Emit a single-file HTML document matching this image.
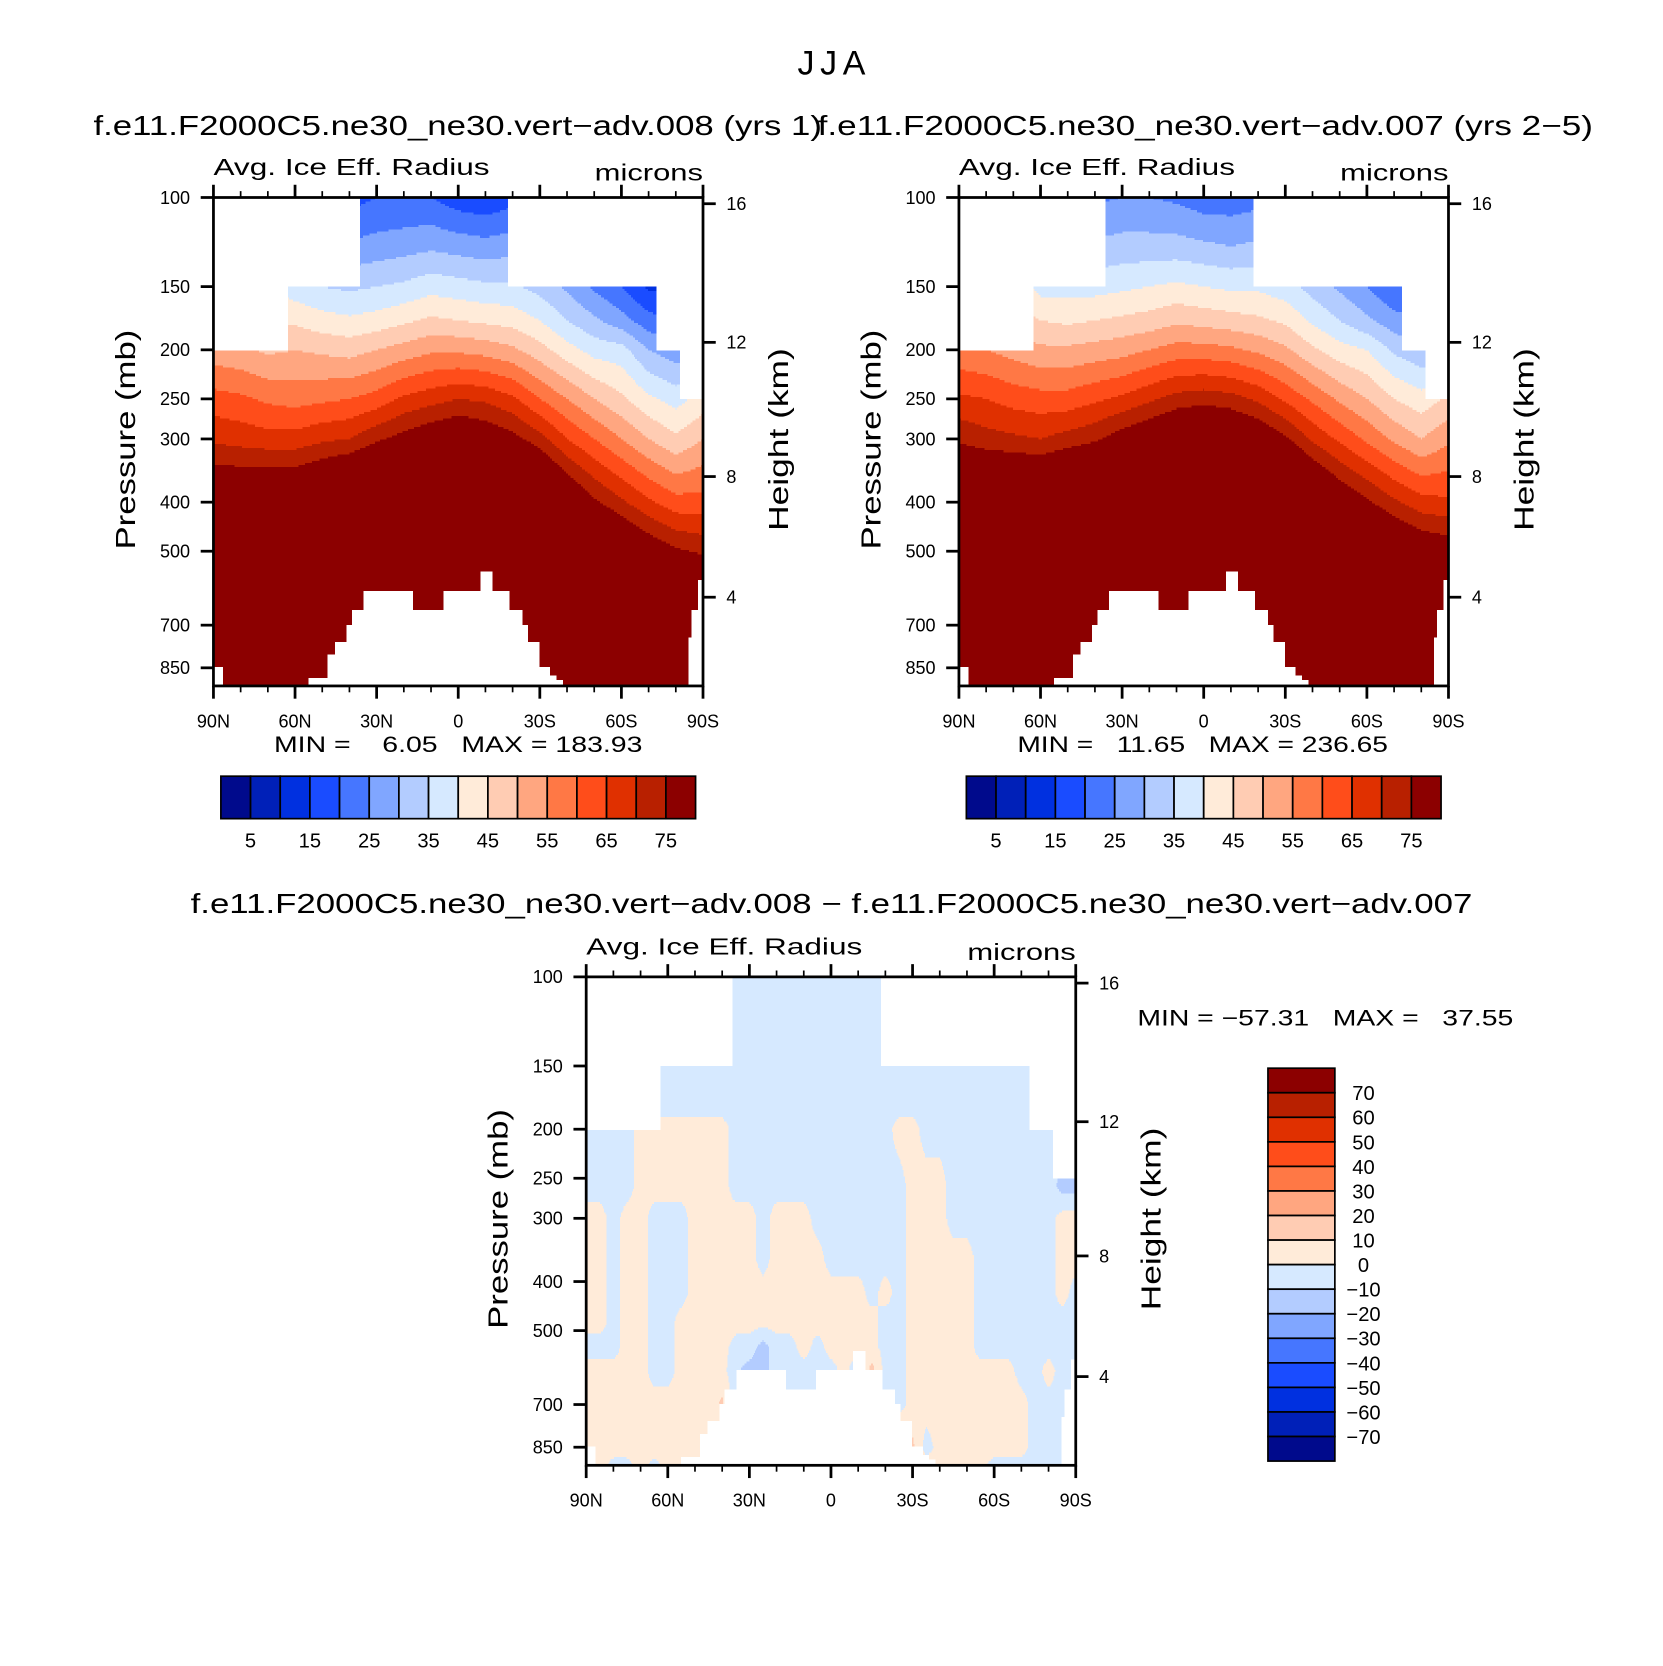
<!DOCTYPE html>
<html><head><meta charset="utf-8"><title>JJA Avg. Ice Eff. Radius</title>
<style>html,body{margin:0;padding:0;background:#fff}#wrap{width:1663px;height:1666px}svg{display:block}text{font-family:"Liberation Sans",sans-serif;fill:#000}</style>
</head><body>
<div id="wrap">
<svg id="fig" width="1663" height="1666" viewBox="0 0 1566 1569" preserveAspectRatio="none">
<text x="783" y="70" font-size="32" text-anchor="middle" textLength="64">JJA</text>
<text x="431" y="127" font-size="26" text-anchor="middle" textLength="686" lengthAdjust="spacingAndGlyphs">f.e11.F2000C5.ne30_ne30.vert−adv.008 (yrs 1)</text>
<text x="1135" y="127" font-size="26" text-anchor="middle" textLength="730" lengthAdjust="spacingAndGlyphs">f.e11.F2000C5.ne30_ne30.vert−adv.007 (yrs 2−5)</text>
<text x="783" y="860" font-size="26" text-anchor="middle" textLength="1207" lengthAdjust="spacingAndGlyphs">f.e11.F2000C5.ne30_ne30.vert−adv.008 − f.e11.F2000C5.ne30_ne30.vert−adv.007</text>
<text x="258" y="708" font-size="21" textLength="347" lengthAdjust="spacingAndGlyphs" xml:space="preserve">MIN =    6.05   MAX = 183.93</text>
<text x="958" y="708" font-size="21" textLength="349" lengthAdjust="spacingAndGlyphs" xml:space="preserve">MIN =   11.65   MAX = 236.65</text>
<text x="1071" y="966" font-size="21" textLength="354" lengthAdjust="spacingAndGlyphs" xml:space="preserve">MIN = −57.31   MAX =   37.55</text>
</svg>
</div>
<script>
// ---------- data ----------
const lats10 = [90,80,70,60,50,40,30,20,10,0,-10,-20,-30,-40,-50,-60,-70,-80,-90];
const pLev = [100,125,150,175,200,250,300,400,500,700,925];
const ctlVals = [
[45,48,50,51,52,62,69,84,100,130,150],
[40,44,47,49,51,61,68,84,100,130,150],
[30,35,40,45,49,59,67,85,100,130,150],
[20,26,37,44,50,58,67,85,100,130,150],
[18,26,35,42,49,59,69,88,105,130,150],
[18,26,34,41,48,60,70,92,110,140,150],
[20,27,35,42,50,62,74,95,115,140,150],
[20,28,36,44,52,66,77,100,120,150,160],
[20,29,38,46,54,68,80,100,120,150,160],
[17,28,37,45,54,70,82,100,120,150,160],
[16,27,36,44,53,69,80,100,120,150,160],
[18,28,36,43,51,66,77,100,120,150,160],
[20,26,33,40,47,60,72,92,110,140,150],
[15,22,29,35,42,55,65,83,100,130,150],
[12,18,24,31,38,50,60,76,92,120,140],
[10,15,20,27,37,46,55,71,85,110,130],
[8,11,14,22,30,41,50,66,80,105,120],
[8,11,14,20,27,38,46,62,76,100,120],
[8,11,14,20,27,42,50,62,74,95,110]];
const expVals = [
[48,51,53,55,56,66,74,90,105,135,160],
[44,47,50,52,55,65,72,90,105,135,160],
[34,39,44,48,53,63,71,90,105,135,160],
[26,31,38,45,51,62,70,90,105,135,160],
[24,30,38,44,51,62,72,93,110,140,160],
[24,31,38,45,52,64,74,96,115,145,160],
[25,32,39,46,53,66,78,100,120,150,160],
[25,32,40,47,55,69,81,104,125,155,170],
[24,32,41,49,57,72,84,105,125,155,170],
[22,31,40,48,57,73,86,105,125,155,170],
[22,30,39,47,56,72,84,105,125,155,170],
[23,31,39,46,54,69,81,104,125,155,170],
[24,30,37,44,51,64,76,97,115,145,160],
[20,27,33,39,46,59,69,88,105,135,160],
[17,23,29,35,42,54,64,81,97,125,150],
[15,20,25,31,40,50,59,76,90,115,140],
[12,16,20,27,34,45,54,71,85,110,130],
[12,16,20,25,31,42,50,67,81,105,130],
[12,16,20,25,31,46,54,66,79,100,120]];
const lats5 = [90,85,80,75,70,65,60,55,50,45,40,35,30,25,20,15,10,5,0,-5,-10,-15,-20,-25,-30,-35,-40,-45,-50,-55,-60,-65,-70,-75,-80,-85,-90];
const pLevD = [100,180,200,260,300,360,420,480,540,600,700,850,925];
const diffVals = [
[-4,-4,-4,-4,4,4,4,4,-4,4,4,4,-3],
[-4,-4,-4,-4,4,4,4,4,-4,4,4,4,4],
[-4,-4,-4,-4,-4,-4,-4,-4,-4,4,4,4,-3],
[-4,-4,-4,-4,4,4,4,4,4,4,4,4,-3],
[-4,-4,4,4,4,4,4,4,4,4,4,4,4],
[-4,-4,4,4,-4,-4,-4,-4,-4,-4,4,4,-3],
[-4,-4,4,4,-4,-4,-4,-4,-4,-4,4,4,4],
[-4,-4,4,4,-4,-4,-4,4,4,4,4,4,4],
[-4,-4,4,4,4,4,4,4,4,4,4,4,-3],
[-4,-4,4,4,4,4,4,4,4,4,4,12,4],
[-4,-4,4,4,4,4,4,4,4,4,12,4,4],
[-4,-4,-4,-4,4,4,4,4,-4,-8,-4,-4,-4],
[-4,-4,-4,-4,4,4,4,4,-4,-15,-4,-4,-4],
[-4,-4,-4,-4,-4,-4,4,4,-15,-15,-4,-4,-4],
[-4,-4,-4,-4,4,4,4,4,-4,-4,-4,-4,-4],
[-4,-4,-4,-4,4,4,4,4,-4,-4,-4,-4,-4],
[-4,-4,-4,-4,4,4,4,4,4,-4,-4,-4,-4],
[-4,-4,-4,-4,-4,4,4,4,-4,-4,-4,-4,-4],
[-4,-4,-4,-4,-4,-4,4,4,4,-4,-4,-4,-4],
[-4,-4,-4,-4,-4,-4,4,4,4,4,4,4,4],
[-4,-4,-4,-4,-4,-4,4,4,4,-8,4,4,4],
[-4,-4,-4,-4,-4,-4,-4,4,4,14,4,4,4],
[-4,-4,-4,-4,-4,-4,4,-4,-4,-4,-4,4,4],
[-4,-4,4,-4,-4,-4,-4,-4,-4,-4,-4,12,4],
[-4,-4,4,4,4,4,4,4,4,4,4,12,4],
[-4,-4,-4,4,4,4,4,4,4,4,4,-4,4],
[-4,-4,-4,4,4,4,4,4,4,4,4,4,4],
[-4,-4,-4,-4,-4,4,4,4,4,4,4,4,4],
[-4,-4,-4,-4,-4,4,4,4,4,4,4,4,4],
[-4,-4,-4,-4,-4,-4,-4,-4,-4,4,4,4,4],
[-4,-4,-4,-4,-4,-4,-4,-4,-4,4,4,4,-4],
[-4,-4,-4,-4,-4,-4,-4,-4,-4,4,4,4,-4],
[-4,-4,-4,-4,-4,-4,-4,-4,-4,-4,4,4,-4],
[-4,-4,-4,-4,-4,-4,-4,-4,-4,-4,-4,-4,-4],
[-4,-4,-4,-4,-4,-4,-4,-4,-4,4,-4,-4,-4],
[-4,-4,-4,-14,4,4,4,-4,-4,-4,-4,-4,-4],
[-4,-4,-4,-14,4,4,-4,-4,-4,-4,-4,-4,-4]];
// missing-data masks: [northern lat, southern lat, pressure]
const topMask = [[90,62.7,200],[62.7,36.1,150],[36.1,-18.2,100],[-18.2,-72.8,150],[-72.8,-81.4,200],[-81.4,-90,250]];
const sfcMask = [[90,86.3,850],[55.1,48.4,890],[48.4,45.3,800],[45.3,41,750],[41,39.2,700],[39.2,34.9,650],[34.9,16.6,600],[16.6,5.5,650],[5.5,-7.9,600],[-7.9,-12.6,550],[-12.6,-18.9,600],[-18.9,-23.8,650],[-23.8,-25.7,700],[-25.7,-30,750],[-30,-33.6,850],[-33.6,-36.1,880],[-36.1,-38.5,900],[-84.5,-85.7,740],[-85.7,-88,650],[-88,-90,570]];
const levels1 = [5,10,15,20,25,30,35,40,45,50,55,60,65,70,75];
const levelsD = [-70,-60,-50,-40,-30,-20,-10,0,10,20,30,40,50,60,70];
const cbLabels1 = ['5','15','25','35','45','55','65','75'];
const cbLabelsD = ['70','60','50','40','30','20','10','0','−10','−20','−30','−40','−50','−60','−70'];
const xTickLats = [90,60,30,0,-30,-60,-90];
const xTickLabels = ['90N','60N','30N','0','30S','60S','90S'];
const pTicks = [100,150,200,250,300,400,500,700,850];
const hTicks = [16,12,8,4];
const colors = ['#000a8c','#0020b8','#0030e0','#1a4cff','#4676ff','#80a6ff','#b3ccff','#d6e9ff','#ffebd9','#ffccb3','#ffa680','#ff7845','#ff4d1a','#e03000','#b82000','#8c0000'];

// ---------- helpers ----------
const NS = 'http://www.w3.org/2000/svg';
const svg = document.getElementById('fig');
const P_BOT = 923;
function mk(tag, attrs, parent) {
  const e = document.createElementNS(NS, tag);
  for (const k in attrs) e.setAttribute(k, attrs[k]);
  (parent || svg).appendChild(e);
  return e;
}
function interp(lat, p, lats, levs, grid) {
  let i = 0;
  while (i < lats.length - 2 && lat < lats[i + 1]) i++;
  let fi = (lats[i] - lat) / (lats[i] - lats[i + 1]);
  fi = Math.max(0, Math.min(1, fi));
  const lp = Math.log(p);
  let j = 0;
  while (j < levs.length - 2 && p > levs[j + 1]) j++;
  let fj = (lp - Math.log(levs[j])) / (Math.log(levs[j + 1]) - Math.log(levs[j]));
  fj = Math.max(0, Math.min(1, fj));
  const a = grid[i][j], b = grid[i][j + 1], c = grid[i + 1][j], d = grid[i + 1][j + 1];
  return (a * (1 - fj) + b * fj) * (1 - fi) + (c * (1 - fj) + d * fj) * fi;
}
function masked(lat, p) {
  for (const m of topMask) if (lat <= m[0] && lat >= m[1] && p < m[2]) return true;
  for (const m of sfcMask) if (lat <= m[0] && lat >= m[1] && p > m[2]) return true;
  return false;
}
function colorIdx(v, levs) {
  let k = 0;
  while (k < levs.length && v >= levs[k]) k++;
  return k;
}
function hToP(z) {
  const m = z * 1000;
  if (m <= 11000) return 1013.25 * Math.pow(1 - 0.0065 * m / 288.15, 5.2559);
  return 226.32 * Math.exp(-(m - 11000) / 6341.6);
}

function panel(id, x0, y0, w, h, lats, levs, grid, levels) {
  const yOf = p => y0 + h * Math.log10(p / 100) / Math.log10(P_BOT / 100);
  const xOf = lat => x0 + (90 - lat) / 180 * w;
  const g = mk('g', {'shape-rendering': 'crispEdges'});
  
  
  const step = 2;
  for (let r = 0; r < h; r += step) {
    const yc = y0 + r + step / 2;
    const p = 100 * Math.pow(P_BOT / 100, (yc - y0) / h);
    let runStart = -1, runCol = -1;
    const flush = (end) => {
      if (runCol >= 0) {
        const rc = mk('rect', {x: x0 + runStart, y: y0 + r, width: end - runStart + 0.4, height: step + 0.4, fill: colors[runCol]}, g);
        
        
      }
    };
    for (let c = 0; c < w; c++) {
      const lat = 90 - (c + 0.5) / w * 180;
      let col = -1;
      if (!masked(lat, p)) col = colorIdx(interp(lat, p, lats, levs, grid), levels);
      if (col !== runCol) { flush(c); runStart = c; runCol = col; }
    }
    flush(w);
  }
  const ax = mk('rect', {x: x0, y: y0, width: w, height: h, fill: 'none', stroke: '#000', 'stroke-width': 2.6});
  
  
  for (let lat = 90; lat >= -90; lat -= 10) {
    const major = lat % 30 === 0;
    const L = major ? 12 : 6;
    const x = xOf(lat);
    const t1 = mk('line', {x1: x, x2: x, y1: y0, y2: y0 - L, stroke: '#000', 'stroke-width': major ? 2.6 : 1.6});
    
    
    const t2 = mk('line', {x1: x, x2: x, y1: y0 + h, y2: y0 + h + L, stroke: '#000', 'stroke-width': major ? 2.6 : 1.6});
    
    
  }
  xTickLats.forEach((lat, i) => {
    const t = mk('text', {x: xOf(lat), y: y0 + h + 39, 'font-size': 17, 'text-anchor': 'middle'});
    t.textContent = xTickLabels[i];
    
    
  });
  pTicks.forEach(p => {
    const y = yOf(p);
    const t = mk('line', {x1: x0, x2: x0 - 12, y1: y, y2: y, stroke: '#000', 'stroke-width': 2.6});
    
    
    const l = mk('text', {x: x0 - 22, y: y + 6, 'font-size': 17, 'text-anchor': 'end'});
    l.textContent = String(p);
    
    
  });
  hTicks.forEach(z => {
    const y = yOf(hToP(z));
    const t = mk('line', {x1: x0 + w, x2: x0 + w + 12, y1: y, y2: y, stroke: '#000', 'stroke-width': 2.6});
    
    
    const l = mk('text', {x: x0 + w + 22, y: y + 6, 'font-size': 17});
    l.textContent = String(z);
    
    
  });
  const s1 = mk('text', {x: x0, y: y0 - 21, 'font-size': 22, textLength: 260, lengthAdjust: 'spacingAndGlyphs'});
  s1.textContent = 'Avg. Ice Eff. Radius';
  
  
  const s2 = mk('text', {x: x0 + w, y: y0 - 16, 'font-size': 22, 'text-anchor': 'end', textLength: 102, lengthAdjust: 'spacingAndGlyphs'});
  s2.textContent = 'microns';
  
  
  const cy = y0 + h / 2 - 2;
  const yl = mk('text', {x: 0, y: 0, 'font-size': 26, 'text-anchor': 'middle', textLength: 207, lengthAdjust: 'spacingAndGlyphs', transform: 'translate(' + (x0 - 74) + ',' + cy + ') rotate(-90)'});
  yl.textContent = 'Pressure (mb)';
  
  
  const hl = mk('text', {x: 0, y: 0, 'font-size': 26, 'text-anchor': 'middle', textLength: 172, lengthAdjust: 'spacingAndGlyphs', transform: 'translate(' + (x0 + w + 80) + ',' + cy + ') rotate(-90)'});
  hl.textContent = 'Height (km)';
  
  
}

function hColorbar(id, x0, y0, w, h) {
  const n = colors.length, bw = w / n;
  colors.forEach((c, i) => {
    const r = mk('rect', {x: x0 + i * bw, y: y0, width: bw, height: h, fill: c, stroke: '#000', 'stroke-width': 1.6});
    
    
  });
  cbLabels1.forEach((lab, k) => {
    const t = mk('text', {x: x0 + (1 + 2 * k) * bw, y: y0 + h + 27, 'font-size': 19, 'text-anchor': 'middle'});
    t.textContent = lab;
    
    
  });
}
function vColorbar(id, x0, y0, w, h) {
  const n = colors.length, bh = h / n;
  colors.forEach((c, i) => {
    const r = mk('rect', {x: x0, y: y0 + i * bh, width: w, height: bh, fill: colors[n - 1 - i], stroke: '#000', 'stroke-width': 1.6});
    
    
  });
  cbLabelsD.forEach((lab, k) => {
    const t = mk('text', {x: x0 + w + 27, y: y0 + (k + 1) * bh + 7, 'font-size': 19, 'text-anchor': 'middle'});
    t.textContent = lab;
    
    
  });
}

panel('panel1', 201, 186, 461, 460, lats10, pLev, ctlVals, levels1);
panel('panel2', 903, 186, 461, 460, lats10, pLev, expVals, levels1);
panel('panel3', 552, 920, 461, 460, lats5, pLevD, diffVals, levelsD);
hColorbar('panel1', 208, 731, 447, 40);
hColorbar('panel2', 910, 731, 447, 40);
vColorbar('panel3', 1194, 1006, 63, 370);
</script>
</body></html>
